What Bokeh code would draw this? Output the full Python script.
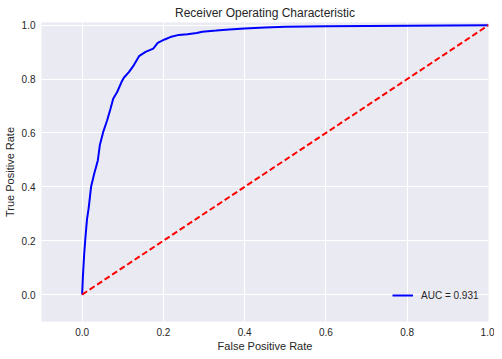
from bokeh.plotting import figure
from bokeh.embed import file_html
from bokeh.resources import INLINE
from bokeh.models import FixedTicker, Range1d, Legend, LegendItem, PrintfTickFormatter

fpr = [0, 0.002, 0.005, 0.008, 0.012, 0.016, 0.022, 0.03, 0.0386, 0.0435, 0.0517, 0.0616,
       0.0698, 0.0764, 0.0862, 0.0969, 0.1026, 0.115, 0.127, 0.140, 0.156, 0.175, 0.186,
       0.203, 0.217, 0.238, 0.259, 0.282, 0.296, 0.33, 0.362, 0.40, 0.45, 0.50, 0.60,
       0.70, 0.80, 0.90, 1.0]
tpr = [0, 0.07, 0.15, 0.21, 0.28, 0.32, 0.40, 0.45, 0.498, 0.554, 0.603, 0.647,
       0.69, 0.727, 0.752, 0.789, 0.805, 0.826, 0.851, 0.885, 0.901, 0.913, 0.934,
       0.947, 0.956, 0.964, 0.966, 0.971, 0.976, 0.98, 0.984, 0.988, 0.991, 0.994, 0.996,
       0.997, 0.998, 0.999, 1.0]
diag_x = [0, 1]
diag_y = [0, 1]
auc_label = "AUC = 0.931"
ticks = [0.0, 0.2, 0.4, 0.6, 0.8, 1.0]

FONT = "Liberation Sans"
TXT = "#262626"

p = figure(frame_width=447, frame_height=299, output_backend="svg", toolbar_location=None,
           x_range=Range1d(-0.1, 1.0), y_range=Range1d(-0.1, 1.01),
           title="Receiver Operating Characteristic",
           min_border_left=35, min_border_right=6, min_border_top=0, min_border_bottom=0)
p.title.align = "center"
p.title.text_font = FONT
p.title.text_font_size = "12px"
p.title.text_font_style = "normal"
p.title.text_color = TXT
p.title.standoff = 6
p.title.offset = 0

p.background_fill_color = "#EAEAF2"
p.border_fill_color = "white"
p.outline_line_color = None

for ax in (p.xaxis[0], p.yaxis[0]):
    ax.ticker = FixedTicker(ticks=ticks)
    ax.formatter = PrintfTickFormatter(format="%.1f")
    ax.major_tick_in = 0
    ax.major_tick_out = 0
    ax.minor_tick_in = 0
    ax.minor_tick_out = 0
    ax.axis_line_color = None
    ax.major_label_text_font = FONT
    ax.major_label_text_font_size = "10px"
    ax.major_label_text_color = TXT
    ax.axis_label_text_font = FONT
    ax.axis_label_text_font_size = "11px"
    ax.axis_label_text_font_style = "normal"
    ax.axis_label_text_color = TXT
    ax.major_label_standoff = 6
    ax.axis_label_standoff = 3
p.xaxis[0].axis_label_standoff = 1

p.xaxis.axis_label = "False Positive Rate"
p.yaxis.axis_label = "True Positive Rate"

p.xgrid.ticker = FixedTicker(ticks=ticks)
p.ygrid.ticker = FixedTicker(ticks=ticks)
p.grid.grid_line_color = "white"
p.grid.grid_line_width = 1

r_roc = p.line(fpr, tpr, line_color="blue", line_width=2)
p.line(diag_x, diag_y, line_color="red", line_width=2, line_dash="6 3")

legend = Legend(items=[LegendItem(label=auc_label, renderers=[r_roc])],
                location=(351, 16))
legend.background_fill_alpha = 0
legend.border_line_color = None
legend.label_text_font = FONT
legend.label_text_font_size = "10px"
legend.label_text_color = TXT
legend.padding = 5
legend.margin = 0
legend.glyph_width = 21
legend.label_standoff = 8
p.add_layout(legend)

open("out.html", "w").write(file_html(p, INLINE))
